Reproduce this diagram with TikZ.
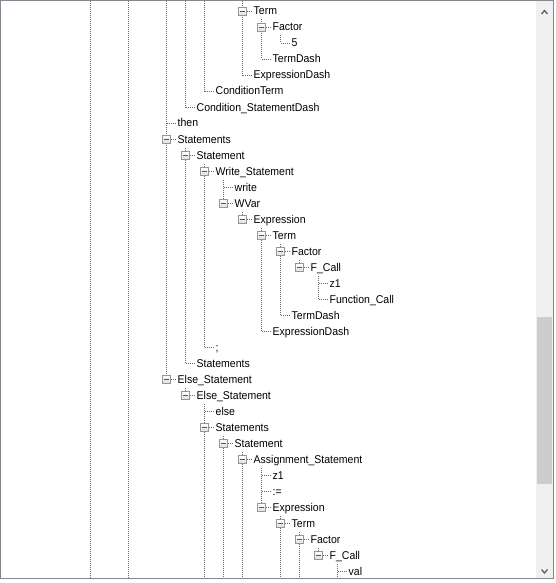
\documentclass[tikz,border=0pt]{standalone}
\usepackage{fontspec}
\setmainfont{Liberation Sans}[FakeStretch=0.93]
\definecolor{dotcol}{HTML}{6A6A6A}
\definecolor{boxcol}{HTML}{959595}
\definecolor{minuscol}{HTML}{555555}
\definecolor{framecol}{HTML}{828790}
\definecolor{sbbg}{HTML}{F0F0F0}
\definecolor{sbthumb}{HTML}{CDCDCD}
\definecolor{sbarrow}{HTML}{606060}
\tikzset{
  treeline/.style={draw=dotcol,line width=1pt,dash pattern=on 1pt off 1pt},
  lbl/.style={anchor=base west,inner sep=0pt,text=black,font=\fontsize{11.3pt}{13pt}\selectfont},
  expbox/.style={draw=boxcol,line width=1pt,minimum size=8pt,inner sep=0pt,
    top color=white,bottom color=black!13,
    path picture={\draw[minuscol,line width=1pt]
      ([xshift=-2.5pt]path picture bounding box.center) -- ([xshift=2.5pt]path picture bounding box.center);}}
}
\newcommand\mkrow[4]{%
  \coordinate (p#1) at ({90.5+19*#2},{11.5+16*#3});
  \node[lbl] (t#1) at ([xshift=11pt,yshift=-3.5pt]p#1) {#4};
  \draw[treeline,shorten >=2.5pt] (p#1) -- (p#1 -| t#1.west);
}
\begin{document}
\begin{tikzpicture}[x=1pt,y=-1pt]
\useasboundingbox (0,0) rectangle (555,583);
\fill[white] (0,0) rectangle (555,583);
\coordinate (top) at (0,1);
\coordinate (bot) at (0,578);
\coordinate (l0) at (90.5,0);
\coordinate (l2) at (128.5,0);
% rows
\mkrow{0}{8}{0}{Term}
\mkrow{1}{9}{1}{Factor}
\mkrow{2}{10}{2}{5}
\mkrow{3}{9}{3}{TermDash}
\mkrow{4}{8}{4}{ExpressionDash}
\mkrow{5}{6}{5}{ConditionTerm}
\mkrow{6}{5}{6}{Condition\_StatementDash}
\mkrow{7}{4}{7}{then}
\mkrow{8}{4}{8}{Statements}
\mkrow{9}{5}{9}{Statement}
\mkrow{10}{6}{10}{Write\_Statement}
\mkrow{11}{7}{11}{write}
\mkrow{12}{7}{12}{WVar}
\mkrow{13}{8}{13}{Expression}
\mkrow{14}{9}{14}{Term}
\mkrow{15}{10}{15}{Factor}
\mkrow{16}{11}{16}{F\_Call}
\mkrow{17}{12}{17}{z1}
\mkrow{18}{12}{18}{Function\_Call}
\mkrow{19}{10}{19}{TermDash}
\mkrow{20}{9}{20}{ExpressionDash}
\mkrow{21}{6}{21}{;}
\mkrow{22}{5}{22}{Statements}
\mkrow{23}{4}{23}{Else\_Statement}
\mkrow{24}{5}{24}{Else\_Statement}
\mkrow{25}{6}{25}{else}
\mkrow{26}{6}{26}{Statements}
\mkrow{27}{7}{27}{Statement}
\mkrow{28}{8}{28}{Assignment\_Statement}
\mkrow{29}{9}{29}{z1}
\mkrow{30}{9}{30}{:=}
\mkrow{31}{9}{31}{Expression}
\mkrow{32}{10}{32}{Term}
\mkrow{33}{11}{33}{Factor}
\mkrow{34}{12}{34}{F\_Call}
\mkrow{35}{13}{35}{val}
% vertical sibling lines
\draw[treeline] (l0 |- top) -- (l0 |- bot);
\draw[treeline] (l2 |- top) -- (l2 |- bot);
\draw[treeline] (p7 |- top) -- (p23);
\draw[treeline] (p6 |- top) -- (p6);
\draw[treeline] (p9 |- p8) ++(0,8) -- (p22);
\draw[treeline] (p24 |- p23) ++(0,8) -- (p24);
\draw[treeline] (p5 |- top) -- (p5);
\draw[treeline] (p10 |- p9) ++(0,8) -- (p21);
\draw[treeline] (p25 |- p24) ++(0,8) -- (p25 |- bot);
\draw[treeline] (p11 |- p10) ++(0,8) -- (p12);
\draw[treeline] (p27 |- p26) ++(0,8) -- (p27 |- bot);
\draw[treeline] (p0 |- top) -- (p4);
\draw[treeline] (p13 |- p12) ++(0,8) -- (p13);
\draw[treeline] (p28 |- p27) ++(0,8) -- (p28 |- bot);
\draw[treeline] (p1 |- p0) ++(0,8) -- (p3);
\draw[treeline] (p14 |- p13) ++(0,8) -- (p20);
\draw[treeline] (p29 |- p28) ++(0,8) -- (p31);
\draw[treeline] (p2 |- p1) ++(0,8) -- (p2);
\draw[treeline] (p15 |- p14) ++(0,8) -- (p19);
\draw[treeline] (p32 |- p31) ++(0,8) -- (p32 |- bot);
\draw[treeline] (p16 |- p15) ++(0,8) -- (p16);
\draw[treeline] (p33 |- p32) ++(0,8) -- (p33 |- bot);
\draw[treeline] (p17 |- p16) ++(0,8) -- (p18);
\draw[treeline] (p34 |- p33) ++(0,8) -- (p34);
\draw[treeline] (p35 |- p34) ++(0,8) -- (p35 |- bot);
% expand boxes
\foreach \i in {0,1,8,9,10,12,13,14,15,16,23,24,26,27,28,31,32,33,34}
  \node[expbox] (b\i) at (p\i) {};
% scrollbar
\fill[sbbg] (536,1) rectangle (553,578);
\fill[sbthumb] (537,317) rectangle (552,484);
\draw[sbarrow,line width=1.3pt,line join=miter] (541.5,14) -- (544.5,10.5) -- (547.5,14);
\draw[sbarrow,line width=1.3pt,line join=miter] (541.5,569.5) -- (544.5,573) -- (547.5,569.5);
% frame
\draw[framecol,line width=1pt] (0.5,0.5) rectangle (553.5,578.5);
\end{tikzpicture}
\end{document}
